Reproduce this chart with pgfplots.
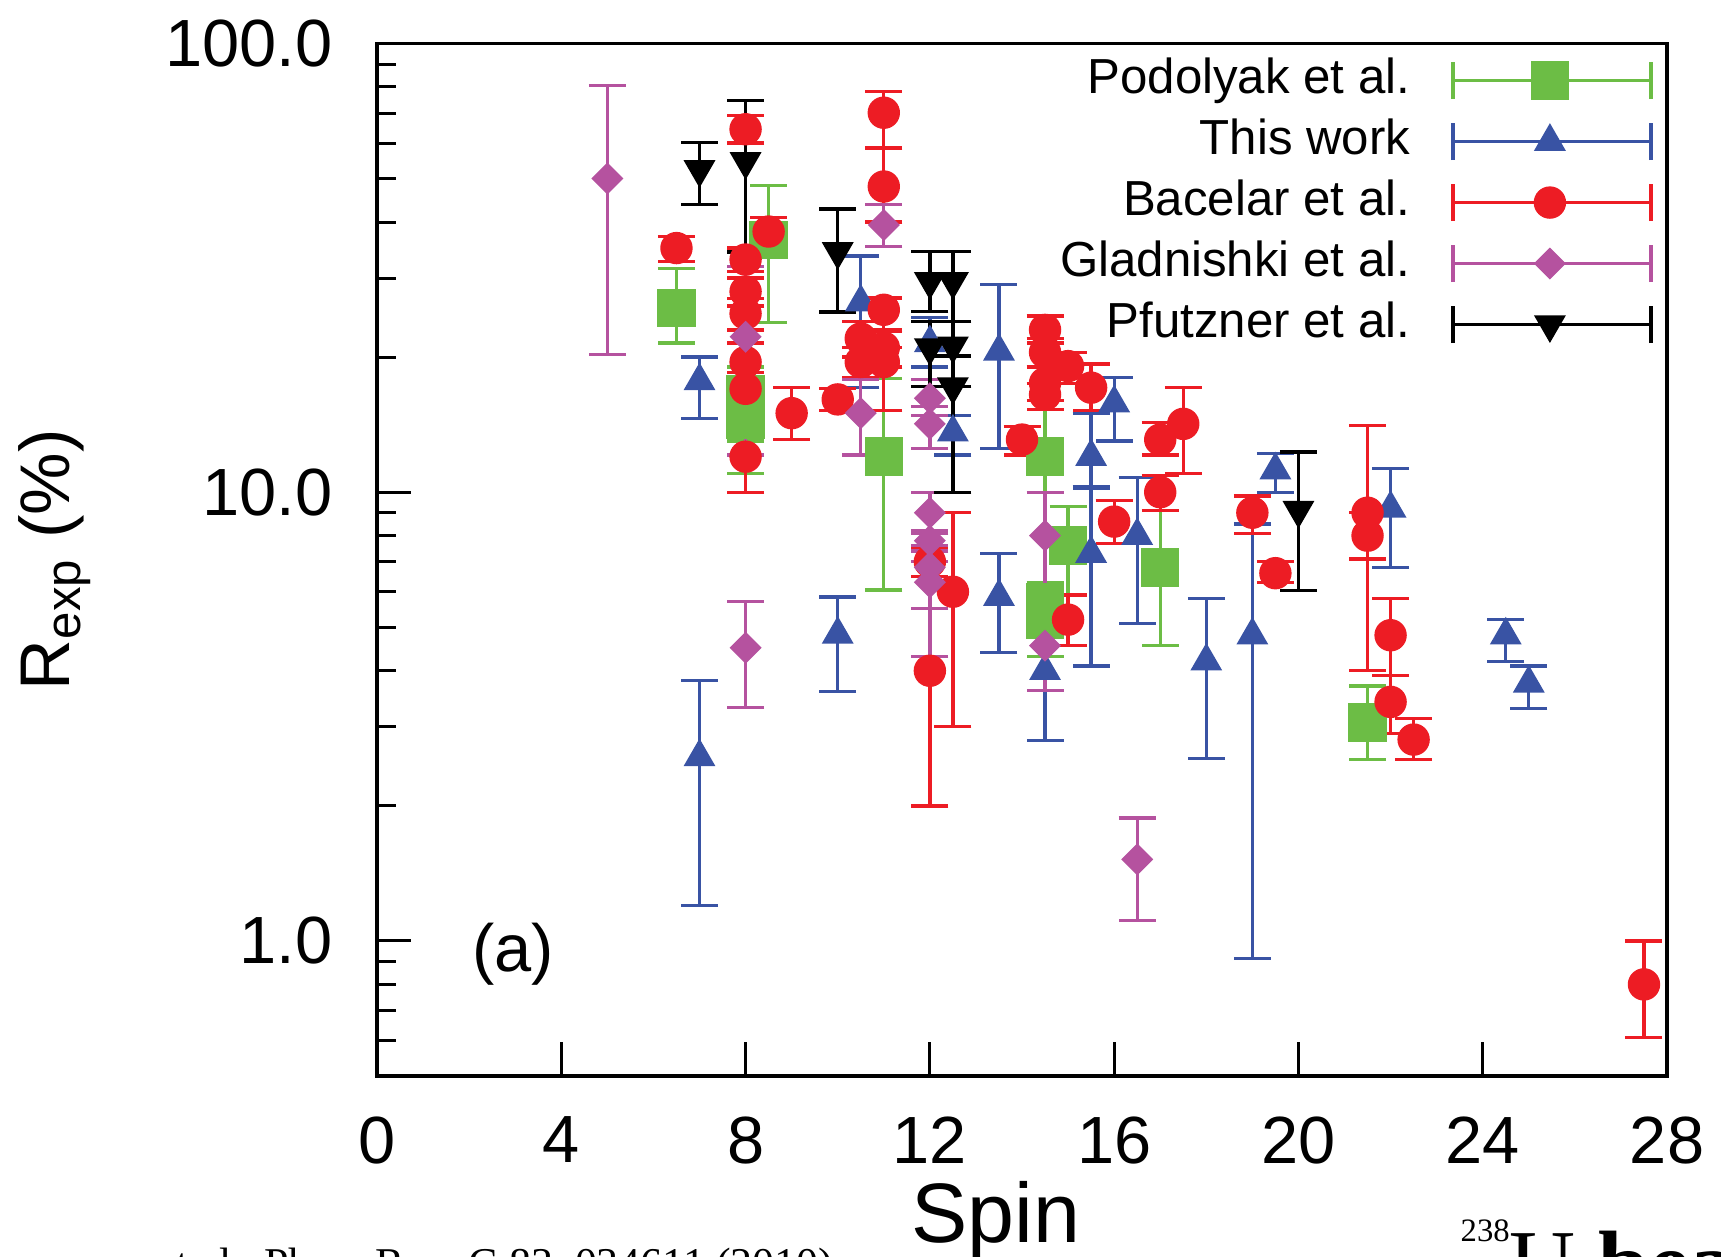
\documentclass[border=0pt]{standalone}
\usepackage{pgfplots}
\pgfplotsset{compat=1.18}
\usepackage{pgfplotstable}
\usepackage{fontspec}
\setmainfont{Liberation Sans}
\newfontfamily\seriffont{Liberation Serif}
\usetikzlibrary{plotmarks}
\definecolor{cgreen}{HTML}{6CBD45}
\definecolor{cblue}{HTML}{3953A4}
\definecolor{cred}{HTML}{ED1C24}
\definecolor{cmag}{HTML}{B5529F}

\pgfdeclareplotmark{sqdiamond*}{%
  \pgfpathmoveto{\pgfqpoint{0pt}{\pgfplotmarksize}}%
  \pgfpathlineto{\pgfqpoint{\pgfplotmarksize}{0pt}}%
  \pgfpathlineto{\pgfqpoint{0pt}{-\pgfplotmarksize}}%
  \pgfpathlineto{\pgfqpoint{-\pgfplotmarksize}{0pt}}%
  \pgfpathclose\pgfusepathqfillstroke}
\pgfdeclareplotmark{dtriangle*}{%
  \pgfpathmoveto{\pgfqpoint{0pt}{-\pgfplotmarksize}}%
  \pgfpathlineto{\pgfqpointpolar{30}{\pgfplotmarksize}}%
  \pgfpathlineto{\pgfqpointpolar{150}{\pgfplotmarksize}}%
  \pgfpathclose\pgfusepathqfillstroke}

\pgfplotstableread{
x y hi lo
6.5 25.7 31.5 21.5
8 16.5 19.0 13.0
8 14.5 17.0 11.0
8.5 36.5 48.2 23.9
11 12.0 17.9 6.05
14.5 12.0 16.0 10.0
14.5 5.7 6.3 5.0
14.5 5.2 5.7 4.3
15 7.6 9.3 5.9
17 6.8 9.1 4.55
21.5 3.07 3.7 2.54
}\podolyak

\pgfplotstableread{
x y hi lo
7 17.7 20.0 14.6
7 2.57 3.81 1.2
10 4.82 5.84 3.6
10.5 26.5 33.6 17.1
12 21.5 24.5 19.0
12.5 13.6 14.8 12.1
13.5 20.6 29.0 12.5
13.5 5.85 7.3 4.4
14.5 4.0 5.5 2.8
15.5 12.0 15.0 10.2
15.5 7.3 10.3 4.1
16 15.8 18.0 13.0
16.5 8.0 10.8 5.1
18 4.2 5.8 2.55
19 4.8 8.5 0.915
19.5 11.2 12.2 10.0
22 9.2 11.3 6.8
24.5 4.8 5.2 4.2
25 3.75 4.1 3.3
}\thiswork

\pgfplotstableread{
x y hi lo
6.5 35.0 37.2 32.7
8 64.4 69.0 60.0
8 33.0 35.0 31.0
8 28.0 30.0 26.0
8 25.0 27.0 23.0
8 19.5 21.5 17.5
8 17.0 18.5 15.5
8 12.0 14.0 10.0
8.5 38.1 40.9 35.6
9 15.0 17.1 13.1
10 16.1 17.0 15.2
10.5 22.0 24.0 20.0
10.5 19.5 21.0 18.0
11 70.1 78.3 58.5
11 48.0 58.5 40.0
11 25.5 27.1 23.0
11 21.0 22.8 19.0
11 19.5 21.0 15.2
12 7.0 7.5 6.5
12 4.0 4.3 2.0
12.5 6.0 9.0 3.0
14 13.1 14.0 12.1
14.5 23.0 24.7 21.5
14.5 20.5 22.0 19.0
14.5 17.5 19.0 16.0
14.5 16.5 17.5 15.3
15 19.1 20.5 17.5
15 5.2 5.9 4.55
15.5 17.1 19.3 15.2
16 8.6 9.6 7.7
17 13.1 14.3 12.1
17 10.0 10.9 9.1
17.5 14.2 17.1 11.0
19 9.0 9.8 8.1
19.5 6.6 7.0 6.3
21.5 9.0 14.1 7.1
21.5 8.0 9.0 4.0
22 4.8 5.8 3.9
22 3.41 3.9 2.9
22.5 2.81 3.13 2.54
27.5 0.8 1.0 0.61
}\bacelar

\pgfplotstableread{
x y hi lo
5 50.0 80.7 20.3
8 22.2 31.8 12.1
8 4.5 5.71 3.31
10.5 15.0 17.8 12.1
11 39.4 43.7 35.3
12 16.2 17.8 14.8
12 14.2 15.5 12.5
12 9.0 10.0 8.1
12 7.8 8.2 7.4
12 6.8 7.6 5.5
12 6.3 7.0 4.3
14.5 8.0 10.0 5.5
14.5 4.55 5.5 3.62
16.5 1.52 1.88 1.11
}\gladnishki

\pgfplotstableread{
x y hi lo
7 52.4 60.2 43.7
8 54.6 74.7 34.3
10 34.4 42.8 25.2
12 29.5 34.4 25.3
12 21.0 24.0 17.2
12.5 29.5 34.4 24.0
12.5 21.2 24.0 17.2
12.5 17.2 20.1 10.0
20 9.12 12.3 6.04
}\pfutzner

\begin{document}
\begin{tikzpicture}
\useasboundingbox (0,0) rectangle (172.1mm,125.6mm);
\begin{axis}[
  at={(37.7mm,18.0mm)}, anchor=south west,
  scale only axis, width=129.0mm, height=103.25mm,
  ymode=log, xmin=0, xmax=28, ymin=0.5, ymax=100,
  xtick={0,4,...,28}, ytick={1,10,100}, yticklabels={1.0,10.0,100.0},
  minor ytick={0.6,0.7,0.8,0.9,2,3,4,5,6,7,8,9,20,30,40,50,60,70,80,90},
  tick align=inside, tick pos=left,
  major tick length=3.4mm, minor tick length=1.9mm,
  tick style={black, line width=0.3mm},
  axis line style={line width=0.35mm},
  /pgf/number format/assume math mode=true,
  tick label style={font=\fontsize{19}{22}\selectfont},
  yticklabel style={anchor=east, inner sep=0pt, xshift=-4.4mm},
  xticklabel style={anchor=north, inner sep=0pt, yshift=-4.0mm},
  xlabel={Spin},
  xlabel style={at={(axis description cs:0.4798,-0.1615)}, anchor=base, font=\fontsize{24}{27}\selectfont},
  ylabel={R\textsubscript{exp} (\%)},
  ylabel style={at={(axis description cs:-0.2496,0.5)}, anchor=center, font=\fontsize{20}{24}\selectfont},
  legend plot pos=right, legend cell align=right,
  legend style={at={(rel axis cs:0.9888,0.9836)}, anchor=north east, draw=none, fill=none,
    inner sep=0pt, outer sep=0pt, row sep=2.07mm, column sep=4.1mm,
    font=\fontsize{14}{16}\selectfont, nodes={inner sep=0pt, text height=0.73em, text depth=0pt}},
  legend image code/.code={%
    \draw[#1, mark=none, solid, line width=0.33mm] (0mm,0mm) -- (19.8mm,0mm);
    \draw[#1, mark=none, solid, line width=0.33mm] (0mm,-1.85mm) -- (0mm,1.85mm);
    \draw[#1, mark=none, solid, line width=0.33mm] (19.8mm,-1.85mm) -- (19.8mm,1.85mm);
    \draw[#1] plot coordinates {(9.7mm,0mm)};
  },
  error bars/error bar style={line width=0.33mm, solid},
  error bars/error mark options={rotate=90, line width=0.33mm, mark size=1.85mm, solid},
]
\addplot[only marks, color=cgreen, mark=square*, mark size=1.85mm,
  error bars/.cd, y dir=both, y explicit]
  table[x=x, y=y, y error plus expr=\thisrow{hi}-\thisrow{y}, y error minus expr=\thisrow{y}-\thisrow{lo}] {\podolyak};
\addlegendentry{Podolyak et al.}
\addplot[only marks, color=cblue, mark=triangle*, mark size=1.7mm,
  error bars/.cd, y dir=both, y explicit]
  table[x=x, y=y, y error plus expr=\thisrow{hi}-\thisrow{y}, y error minus expr=\thisrow{y}-\thisrow{lo}] {\thiswork};
\addlegendentry{This work}
\addplot[only marks, color=cred, mark=*, mark size=1.55mm,
  error bars/.cd, y dir=both, y explicit]
  table[x=x, y=y, y error plus expr=\thisrow{hi}-\thisrow{y}, y error minus expr=\thisrow{y}-\thisrow{lo}] {\bacelar};
\addlegendentry{Bacelar et al.}
\addplot[only marks, color=cmag, mark=sqdiamond*, mark size=1.5mm,
  error bars/.cd, y dir=both, y explicit]
  table[x=x, y=y, y error plus expr=\thisrow{hi}-\thisrow{y}, y error minus expr=\thisrow{y}-\thisrow{lo}] {\gladnishki};
\addlegendentry{Gladnishki et al.}
\addplot[only marks, color=black, mark=dtriangle*, mark size=1.7mm,
  error bars/.cd, y dir=both, y explicit]
  table[x=x, y=y, y error plus expr=\thisrow{hi}-\thisrow{y}, y error minus expr=\thisrow{y}-\thisrow{lo}] {\pfutzner};
\addlegendentry{Pfutzner et al.}
\node[anchor=base, font=\fontsize{19}{22}\selectfont, inner sep=0pt] at (axis cs:2.95,0.855) {(a)};
\end{axis}
\node[anchor=base west, inner sep=0pt, font={\seriffont\fontsize{26}{28}\selectfont}] at (146.0mm,-3.8mm) {\raisebox{5.2mm}{\fontsize{9.3}{10}\selectfont 238}U \textbf{beam}};
\node[anchor=base east, inner sep=0pt, font={\seriffont\fontsize{12.5}{14}\selectfont}] at (83.4mm,-2.2mm) {et al., Phys. Rev. C 83, 034611 (2010)};
\end{tikzpicture}
\end{document}
